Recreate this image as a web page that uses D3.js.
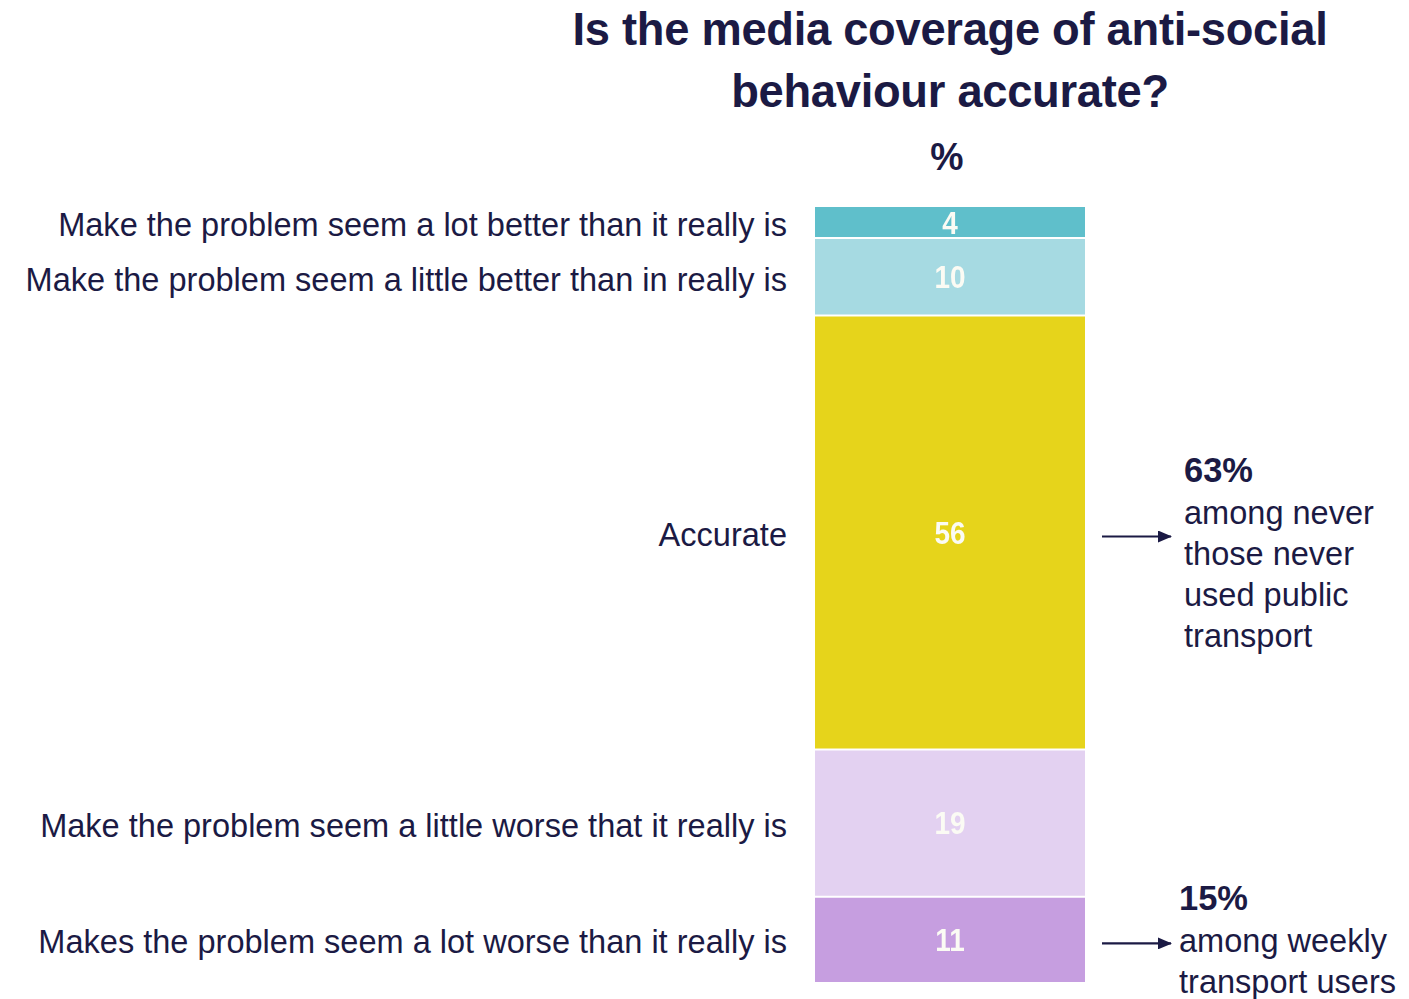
<!DOCTYPE html>
<html>
<head>
<meta charset="utf-8">
<script src="https://cdn.jsdelivr.net/npm/d3@7"></script>
<style>
  html, body { margin: 0; padding: 0; background: #ffffff; }
  svg { display: block; }
  text { font-family: "Liberation Sans", Arial, sans-serif; }
</style>
</head>
<body>
<svg id="chart" width="1409" height="999"></svg>
<script>
// Survey responses, in percent, top to bottom of the stacked column
const categories = [
  "Make the problem seem a lot better than it really is",
  "Make the problem seem a little better than in really is",
  "Accurate",
  "Make the problem seem a little worse that it really is",
  "Makes the problem seem a lot worse than it really is"
];
const values = [4, 10, 56, 19, 11];
const colors = ["#5fbfcb", "#a6dae2", "#e6d41b", "#e3d1f1", "#c69ee0"];

const titleLines = ["Is the media coverage of anti-social", "behaviour accurate?"];
const unitLabel = "%";

// Call-outs beside two of the segments
const callouts = [
  { category: "Accurate", headline: "63%", lines: ["among never", "those never", "used public", "transport"] },
  { category: "Makes the problem seem a lot worse than it really is", headline: "15%", lines: ["among weekly", "transport users"] }
];

const ink = "#1b1a44";
const svg = d3.select("#chart");
const defs = svg.append("defs");

// Horizontal squeeze that gives a regular sans face a condensed look
function condense(sel, k) {
  sel.each(function () {
    const t = d3.select(this);
    const tx = +t.attr("x") || 0, ty = +t.attr("y") || 0;
    t.attr("x", 0).attr("y", 0).attr("transform", `translate(${tx},${ty}) scale(${k},1)`);
  });
}

// Stack layout
const stacked = [];
let acc = 0;
values.forEach((v, i) => { stacked.push({ cat: categories[i], value: v, y0: acc, y1: acc + v, color: colors[i] }); acc += v; });

const y = d3.scaleLinear().domain([0, 100]).range([207, 982]);
const x = d3.scaleBand().domain(["all"]).range([815, 1085]).padding(0);
const gap = 1;

// Title
const title = svg.append("g").selectAll("text").data(titleLines).join("text")
  .attr("x", 950).attr("y", (d, i) => 45 + i * 62)
  .attr("text-anchor", "middle")
  .attr("font-size", 46).attr("font-weight", "bold")
  .attr("fill", ink).attr("letter-spacing", -0.3)
  .text(d => d);
const kTitle = 755 / title.node().getComputedTextLength();
condense(title, kTitle);

svg.append("text")
  .attr("x", 947).attr("y", 170)
  .attr("text-anchor", "middle")
  .attr("font-size", 38).attr("font-weight", "bold")
  .attr("fill", ink).text(unitLabel)
  .call(condense, kTitle);

// Segments
svg.append("g").selectAll("rect").data(stacked).join("rect")
  .attr("x", x("all")).attr("width", x.bandwidth())
  .attr("y", d => y(d.y0) + (d.y0 > 0 ? gap : 0))
  .attr("height", d => y(d.y1) - y(d.y0) - (d.y0 > 0 ? gap : 0) - (d.y1 < 100 ? gap : 0))
  .attr("fill", d => d.color);

// Value labels inside segments
defs.append("filter").attr("id", "soft")
  .append("feGaussianBlur").attr("stdDeviation", 0.6);

svg.append("g").selectAll("text").data(stacked).join("text")
  .attr("x", x("all") + x.bandwidth() / 2)
  .attr("y", d => y((d.y0 + d.y1) / 2))
  .attr("dy", "0.36em")
  .attr("text-anchor", "middle")
  .attr("font-size", 31).attr("font-weight", "bold")
  .attr("fill", "#fbfbf4").attr("filter", "url(#soft)")
  .text(d => d.value)
  .call(condense, 0.9);

// Category labels, right aligned to the left of the column
const catLabels = svg.append("g").selectAll("text").data(stacked).join("text")
  .attr("x", 787)
  .attr("y", d => y((d.y0 + d.y1) / 2))
  .attr("dy", "0.42em")
  .attr("text-anchor", "end")
  .attr("font-size", 33)
  .attr("fill", ink)
  .text(d => d.cat);
const kText = 729 / catLabels.node().getComputedTextLength();
condense(catLabels, kText);

// Arrow marker
defs.append("marker")
  .attr("id", "arrow").attr("viewBox", "0 0 14 12")
  .attr("refX", 13).attr("refY", 6)
  .attr("markerWidth", 14).attr("markerHeight", 12)
  .attr("markerUnits", "userSpaceOnUse")
  .attr("orient", "auto")
  .append("path").attr("d", "M0,0 L14,6 L0,12 Z").attr("fill", ink);

const byCat = new Map(stacked.map(d => [d.cat, d]));
callouts.forEach((c, k) => {
  const seg = byCat.get(c.category);
  const cy = y((seg.y0 + seg.y1) / 2) + 4;
  svg.append("line")
    .attr("x1", 1102).attr("x2", 1171)
    .attr("y1", cy).attr("y2", cy)
    .attr("stroke", ink).attr("stroke-width", 2.2)
    .attr("marker-end", "url(#arrow)");
  const tx = k === 0 ? 1184 : 1179;
  const top = k === 0 ? cy - 55 : cy - 33;
  svg.append("text")
    .attr("x", tx).attr("y", top)
    .attr("font-size", 35).attr("font-weight", "bold")
    .attr("fill", ink).text(c.headline)
    .call(condense, kTitle);
  svg.append("g").selectAll("text").data(c.lines).join("text")
    .attr("x", tx).attr("y", (d, i) => top + 42 + i * 41)
    .attr("font-size", 33)
    .attr("fill", ink).text(d => d)
    .call(condense, kText);
});
</script>
</body>
</html>
